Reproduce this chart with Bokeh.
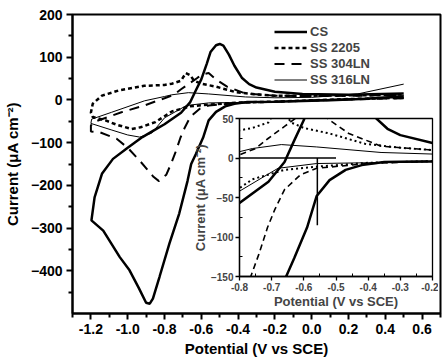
from bokeh.plotting import figure
from bokeh.models import Range1d, Legend, LegendItem, FixedTicker, PrintfTickFormatter
from bokeh.layouts import column
from bokeh.embed import file_html
from bokeh.resources import INLINE

# ---------------- data ----------------
cs_v = [0.5, 0.3, 0.1, -0.2, -0.35, -0.42, -0.47, -0.52, -0.56, -0.59, -0.63, -0.655, -0.675, -0.72,
        -0.773, -0.827, -0.863, -0.88, -0.9, -0.94, -0.99, -1.043, -1.133, -1.197,
        -1.18, -1.14, -1.08, -1.0, -0.92, -0.86, -0.8, -0.71, -0.66, -0.63, -0.6, -0.57, -0.55,
        -0.52, -0.5, -0.48, -0.45, -0.42, -0.38, -0.34, -0.3, -0.2, -0.05, 0.2, 0.5]
cs_i = [8, 3, -1, -4, -5, -9, -15, -28, -48, -88, -127, -150, -190, -266,
        -336, -414, -465, -477, -475, -440, -399, -368, -306, -282,
        -228, -173, -138, -112, -87, -72, -57, -30, -5, 22, 48, 85, 112,
        128, 131, 127, 106, 80, 52, 37, 29, 19, 14, 12, 15]

ss2205_v = [0.5, 0.2, -0.2, -0.4, -0.56, -0.66, -0.76, -0.85, -0.93, -0.98, -1.06, -1.12, -1.19, -1.2,
            -1.19, -1.14, -1.05, -0.91, -0.8, -0.76, -0.71, -0.684, -0.66, -0.64, -0.6, -0.52, -0.41,
            -0.3, -0.2, 0.0, 0.3, 0.5]
ss2205_i = [5, 2, -4, -6, -11, -15, -27, -52, -64, -68, -58, -48, -40, -30,
            -9, 10, 22, 33, 35, 38, 45, 63, 58, 45, 38, 31, 18,
            13, 10, 10, 11, 13]

ss304_v = [0.5, 0.2, -0.2, -0.4, -0.56, -0.61, -0.66, -0.69, -0.713, -0.74, -0.765, -0.79, -0.83, -0.86,
           -0.935, -1.0, -1.06, -1.15, -1.2, -1.2, -1.187, -1.034, -0.91, -0.8, -0.75, -0.71, -0.66,
           -0.62, -0.59, -0.56, -0.52, -0.46, -0.36, -0.2, 0.0, 0.3, 0.5]
ss304_i = [4, 1, -4, -7, -13, -21, -40, -65, -88, -122, -150, -175, -190, -180,
           -142, -112, -91, -76, -74, -60, -52, -29, -13, 4, 12, 25, 40,
           52, 60, 63, 48, 31, 15, 10, 9, 10, 12]

ss316_v = [0.5, 0.3, 0.0, -0.2, -0.4, -0.56, -0.68, -0.73, -0.8, -0.87, -0.935, -1.0, -1.09, -1.2,
           -1.196, -1.088, -0.908, -0.8, -0.76, -0.67, -0.56, -0.36, -0.2, 0.0, 0.25, 0.5]
ss316_i = [10, 4, 0, -5, -6, -7, -13, -25, -42, -78, -87, -82, -70, -55,
           -45, -29, -2, 8, 12, 17, 14, 7, 5, 6, 14, 37]

series_names = ["CS", "SS 2205", "SS 304LN", "SS 316LN"]

main_xticks = [-1.2, -1.0, -0.8, -0.6, -0.4, -0.2, 0.0, 0.2, 0.4, 0.6]
main_xminor = [-1.3, -1.1, -0.9, -0.7, -0.5, -0.3, -0.1, 0.1, 0.3, 0.5, 0.7]
main_yticks = [-400, -300, -200, -100, 0, 100, 200]
main_yminor = [-450, -350, -250, -150, -50, 50, 150]

inset_xticks = [-0.8, -0.7, -0.6, -0.5, -0.4, -0.3, -0.2]
inset_xminor = [-0.75, -0.65, -0.55, -0.45, -0.35, -0.25]
inset_yticks = [-150, -100, -50, 0, 50]
inset_yminor = [-125, -75, -25, 25]

# Ecorr marker lines inside the inset
marker_h_x = [-0.8, -0.5]
marker_h_y = [0, 0]
marker_v_x = [-0.558, -0.558]
marker_v_y = [0, -85]

FONT = "Liberation Sans"

# ---------------- main figure ----------------
p = figure(width=446, height=361, x_range=Range1d(-1.3, 0.7), y_range=Range1d(-500, 200),
           output_backend="svg", toolbar_location=None,
           min_border_left=69, min_border_right=6, min_border_top=14, min_border_bottom=48)
p.grid.visible = False
p.outline_line_color = "black"
p.outline_line_width = 2
p.background_fill_color = "white"
p.border_fill_color = "white"

p.xaxis.ticker = FixedTicker(ticks=main_xticks, minor_ticks=main_xminor)
p.yaxis.ticker = FixedTicker(ticks=main_yticks, minor_ticks=main_yminor)
p.xaxis.formatter = PrintfTickFormatter(format="%.1f")
for ax in (p.xaxis[0], p.yaxis[0]):
    ax.axis_line_width = 2
    ax.major_tick_line_width = 2
    ax.minor_tick_line_width = 2
    ax.major_tick_in = 0
    ax.major_tick_out = 6
    ax.minor_tick_in = 0
    ax.minor_tick_out = 4
    ax.major_label_text_font = FONT
    ax.major_label_text_font_style = "bold"
    ax.major_label_text_font_size = "14px"
    ax.axis_label_text_font = FONT
    ax.axis_label_text_font_style = "bold"
    ax.axis_label_text_font_size = "15px"
    ax.major_label_text_color = "black"
    ax.axis_label_text_color = "black"
p.xaxis.axis_label = "Potential (V vs SCE)"
p.yaxis.axis_label = "Current (μA cm⁻²)"
p.xaxis.major_label_standoff = 4
p.xaxis.axis_label_standoff = 3
p.yaxis.major_label_standoff = 4
p.yaxis.axis_label_standoff = 7

r_cs = p.line(cs_v, cs_i, line_color="black", line_width=2.5)
r_2205 = p.line(ss2205_v, ss2205_i, line_color="black", line_width=2.5, line_dash="4 3")
r_304 = p.line(ss304_v, ss304_i, line_color="black", line_width=2, line_dash="10 7")
r_316 = p.line(ss316_v, ss316_i, line_color="black", line_width=1)

legend = Legend(items=[LegendItem(label=n, renderers=[r]) for n, r in
                       zip(series_names, [r_cs, r_2205, r_304, r_316])],
                location=(202, 226), glyph_width=33, glyph_height=15, label_height=15,
                spacing=1, padding=0, margin=0, label_standoff=3,
                border_line_alpha=0, background_fill_alpha=0,
                label_text_font=FONT, label_text_font_style="bold", label_text_font_size="13px")
p.add_layout(legend, "center")

# ---------------- inset figure ----------------
q = figure(width=271, height=203, x_range=Range1d(-0.8, -0.2), y_range=Range1d(-150, 50),
           output_backend="svg", toolbar_location=None,
           min_border_left=69, min_border_right=6, min_border_top=5, min_border_bottom=40)
q.grid.visible = False
q.outline_line_color = "black"
q.outline_line_width = 1.3
q.background_fill_color = "white"
q.border_fill_alpha = 0
q.xaxis.ticker = FixedTicker(ticks=inset_xticks, minor_ticks=inset_xminor)
q.yaxis.ticker = FixedTicker(ticks=inset_yticks, minor_ticks=inset_yminor)
q.xaxis.formatter = PrintfTickFormatter(format="%.1f")
for ax in (q.xaxis[0], q.yaxis[0]):
    ax.axis_line_width = 1.3
    ax.major_tick_line_width = 1.3
    ax.minor_tick_line_width = 1
    ax.major_tick_in = 0
    ax.major_tick_out = 4
    ax.minor_tick_in = 3
    ax.minor_tick_out = 0
    ax.major_label_text_font = FONT
    ax.major_label_text_font_style = "bold"
    ax.major_label_text_font_size = "10px"
    ax.axis_label_text_font = FONT
    ax.axis_label_text_font_style = "bold"
    ax.axis_label_text_font_size = "13px"
    ax.major_label_standoff = 2
    ax.axis_label_standoff = 0
q.xaxis.axis_label = "Potential (V vs SCE)"
q.yaxis.axis_label = "Current (μA cm⁻²)"

q.line(cs_v, cs_i, line_color="black", line_width=2.5)
q.line(ss2205_v, ss2205_i, line_color="black", line_width=2, line_dash="2 3")
q.line(ss304_v, ss304_i, line_color="black", line_width=1.6, line_dash="6 4")
q.line(ss316_v, ss316_i, line_color="black", line_width=1)
q.line(marker_h_x, marker_h_y, line_color="black", line_width=1.5)
q.line(marker_v_x, marker_v_y, line_color="black", line_width=1.5)

q.styles = {"position": "absolute", "left": "167px", "top": "113px"}

layout = column(p, q, width=446, height=361)
layout.styles = {"position": "relative"}

open("out.html", "w").write(file_html(layout, INLINE))
